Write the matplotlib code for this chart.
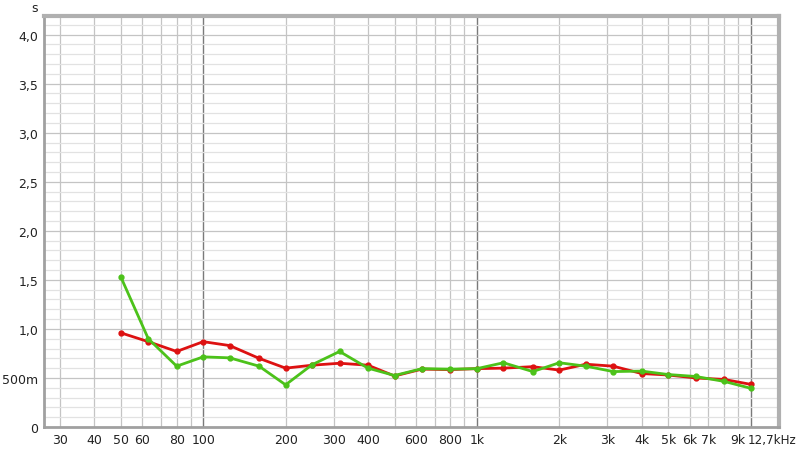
import numpy as np
import matplotlib
matplotlib.use('Agg')
import matplotlib.pyplot as plt
import matplotlib.transforms as mtransforms
from matplotlib.ticker import FixedLocator, NullFormatter

# 1/3 octave band centres (Hz)
FREQS = [50, 63, 80, 100, 125, 160, 200, 250, 315, 400, 500, 630, 800,
         1000, 1250, 1600, 2000, 2500, 3150, 4000, 5000, 6300, 8000, 10000]

# reverberation time, seconds
RED_T = [0.96, 0.87, 0.77, 0.87, 0.83, 0.70, 0.60, 0.63, 0.65, 0.63, 0.52, 0.59, 0.585,
         0.595, 0.60, 0.615, 0.58, 0.64, 0.62, 0.545, 0.53, 0.50, 0.485, 0.435]
GREEN_T = [1.53, 0.90, 0.62, 0.715, 0.705, 0.62, 0.43, 0.635, 0.77, 0.60, 0.525, 0.595, 0.59,
           0.595, 0.655, 0.565, 0.655, 0.62, 0.565, 0.57, 0.535, 0.515, 0.465, 0.395]

X_TICKS = [30, 40, 50, 60, 80, 100, 200, 300, 400, 600, 800, 1000, 2000, 3000,
           4000, 5000, 6000, 7000, 9000, 12700]
X_LABELS = ['30', '40', '50', '60', '80', '100', '200', '300', '400', '600', '800', '1k',
            '2k', '3k', '4k', '5k', '6k', '7k', '9k', '12,7kHz']
Y_TICKS = [0, 0.5, 1.0, 1.5, 2.0, 2.5, 3.0, 3.5, 4.0]
Y_LABELS = ['0', '500m', '1,0', '1,5', '2,0', '2,5', '3,0', '3,5', '4,0']

X_MIN, X_MAX = 26.2, 12700
Y_MAX = 4.19

fig = plt.figure(figsize=(8, 4.52), dpi=100)
ax = fig.add_axes([44 / 800, 24 / 452, 735 / 800, 411 / 452])
ax.set_xscale('log')
ax.set_xlim(X_MIN, X_MAX)
ax.set_ylim(0, Y_MAX)

# grid
minor_x = [f * d for d in (10, 100, 1000, 10000) for f in range(2, 10)
           if X_MIN < f * d < X_MAX]
for f in minor_x:
    ax.axvline(f, color='#c4c4c4', lw=0.9, zorder=0)
for f in (100, 1000, 10000):
    ax.axvline(f, color='#7a7a7a', lw=1.0, zorder=0)
for y in np.arange(0.1, Y_MAX, 0.1):
    major = abs(y * 2 - round(y * 2)) < 1e-6
    ax.axhline(y, color='#c4c4c4' if major else '#e2e2e2', lw=0.9, zorder=0)

ax.plot(FREQS, RED_T, color='#dd1111', lw=2, marker='o', ms=3.5, zorder=3)
ax.plot(FREQS, GREEN_T, color='#4cc21a', lw=2, marker='o', ms=3.5, zorder=4)

ax.xaxis.set_major_locator(FixedLocator(X_TICKS))
ax.xaxis.set_minor_locator(FixedLocator([]))
ax.xaxis.set_minor_formatter(NullFormatter())
ax.set_xticklabels(X_LABELS)
ax.set_yticks(Y_TICKS)
ax.set_yticklabels(Y_LABELS)
ax.tick_params(length=0, labelsize=9, colors='#222222', pad=4)

# last label sits against the right edge of the figure
last = ax.get_xticklabels()[-1]
last.set_horizontalalignment('right')
last.set_fontsize(8.6)
offset = mtransforms.ScaledTranslation(17 / 100, 0, fig.dpi_scale_trans)
last.set_transform(last.get_transform() + offset)

for side in ('left', 'bottom'):
    ax.spines[side].set_color('#a0a0a0')
    ax.spines[side].set_linewidth(2)
for side in ('top', 'right'):
    ax.spines[side].set_color('#b0b0b0')
    ax.spines[side].set_linewidth(3)

fig.text(35 / 800, 1 - 8 / 452, 's', fontsize=9, color='#222222',
         va='center', ha='center')

fig.savefig('out.png', dpi=100)
